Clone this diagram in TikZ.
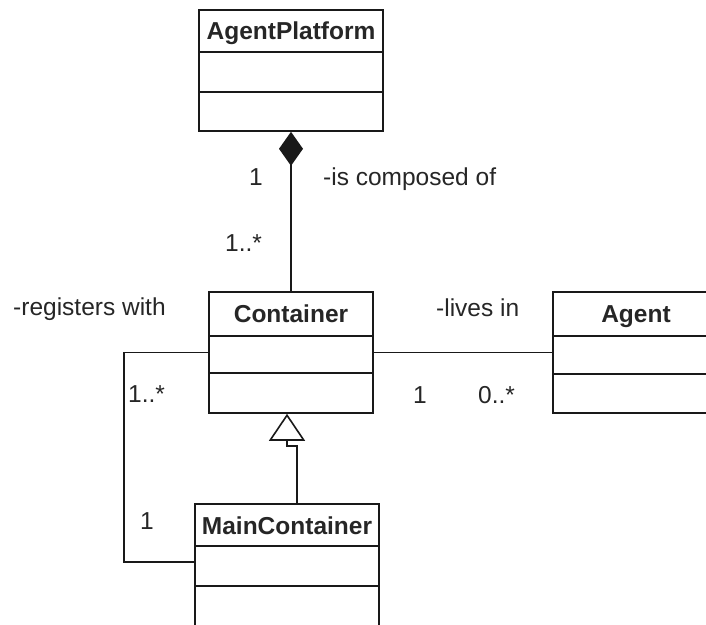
\documentclass[tikz,border=0pt]{standalone}
\usepackage{fontspec}
\setmainfont{Liberation Sans}
\usetikzlibrary{arrows.meta,calc}
\begin{document}
\begin{tikzpicture}[x=1pt,y=-1pt,
  ln/.style={line width=1.6pt, draw=black!90},
  umlbox/.style={draw=black!90, line width=1.6pt, inner sep=0pt},
  title/.style={anchor=base, inner sep=0pt, font=\bfseries\fontsize{24.5}{29}\selectfont, text=black!85},
  lbl/.style={anchor=base west, inner sep=0pt, font=\fontsize{24.5}{29}\selectfont, text=black!85}]
\useasboundingbox (0,0) rectangle (706,624);
% classes
\node[umlbox, minimum width=184pt, minimum height=121pt] (ap) at (291,70.5) {};
\node[umlbox, minimum width=164pt, minimum height=121pt] (ct) at (291,352.5) {};
\node[umlbox, minimum width=166pt, minimum height=121pt] (ag) at (636,352.5) {};
\node[umlbox, minimum width=184pt, minimum height=136pt] (mc) at (287,572) {};
% compartments
\draw[ln] ($(ap.north west)+(0,43)$) -- ($(ap.north east)+(0,43)$);
\draw[ln] ($(ap.north west)+(0,83)$) -- ($(ap.north east)+(0,83)$);
\draw[ln] ($(ct.north west)+(0,45)$) -- ($(ct.north east)+(0,45)$);
\draw[ln] ($(ct.north west)+(0,82)$) -- ($(ct.north east)+(0,82)$);
\draw[ln] ($(ag.north west)+(0,45)$) -- ($(ag.north east)+(0,45)$);
\draw[ln] ($(ag.north west)+(0,83)$) -- ($(ag.north east)+(0,83)$);
\draw[ln] ($(mc.north west)+(0,43)$) -- ($(mc.north east)+(0,43)$);
\draw[ln] ($(mc.north west)+(0,83)$) -- ($(mc.north east)+(0,83)$);
% titles
\node[title] (apt) at ($(ap.north)+(0,30)$) {AgentPlatform};
\node[title] (ctt) at ($(ct.north)+(0,31)$) {Container};
\node[title] (agt) at ($(ag.north)+(0,31)$) {Agent};
\node[title] (mct) at ($(mc.north)+(0,31)$) {MainContainer};
% connectors
\draw[ln, {Diamond[length=34pt,width=24pt]}-] (ap.south) -- (ct.north);
\draw[ln, -{Triangle[open,length=27pt,width=36pt]}] ($(mc.north)+(10,0)$) -- ++(0,-57) -| ($(ct.south)+(-4,0)$);
\draw[ln] (ct.west) -- ++(-84,0) |- ($(mc.north west)+(0,59)$);
\draw[ln] (ct.east) -- (ag.west);
% labels
\node[lbl] (m1) at (249,185) {1};
\node[lbl] (comp) at (323,185) {-is composed of};
\node[lbl] (m2) at (225,251) {1..*};
\node[lbl] (reg) at (13,315) {-registers with};
\node[lbl] (live) at (436,316) {-lives in};
\node[lbl] (m3) at (128,402) {1..*};
\node[lbl] (m4) at (413,403) {1};
\node[lbl] (m5) at (478,403) {0..*};
\node[lbl] (m6) at (140,529) {1};
\end{tikzpicture}
\end{document}
